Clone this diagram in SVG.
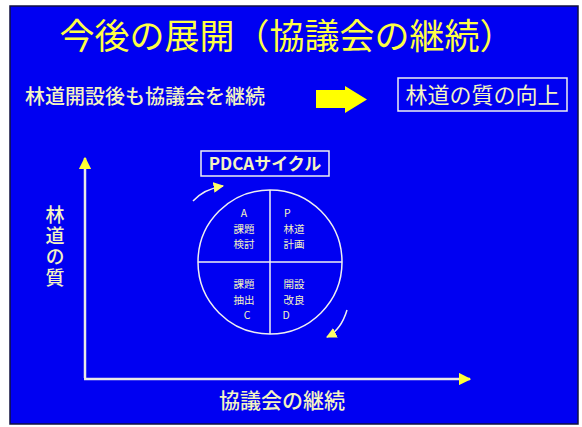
<svg xmlns="http://www.w3.org/2000/svg" width="582" height="427" viewBox="0 0 582 427">
<defs>
<style>
.t{font-family:"Noto Sans CJK JP","Liberation Sans",sans-serif;}
.y{fill:#ffff44;}
.p{fill:#f4f4c0;}
.ax{stroke:#e8e8e8;stroke-width:2.5;fill:none;}
.wl{stroke:#f0f0f0;stroke-width:1.5;fill:none;}
</style>
<marker id="ah" viewBox="0 0 10 10" refX="9" refY="5" markerWidth="5" markerHeight="5" orient="auto" markerUnits="strokeWidth"><path d="M0,0L10,5L0,10z" fill="#ffff33"/></marker>
<marker id="sh" viewBox="0 0 10 10" refX="9" refY="5" markerWidth="7" markerHeight="7" orient="auto" markerUnits="strokeWidth"><path d="M0,0L10,5L0,10z" fill="#ffff66"/></marker>
</defs>
<rect width="582" height="427" fill="#ffffff"/>
<rect x="10" y="6" width="568" height="418" fill="#0000f2" stroke="#101040" stroke-width="1.5"/>
<g id="title"><text class="t y" x="287" y="49" font-size="35" text-anchor="middle">今後の展開（協議会の継続）</text></g>
<g id="subtitle"><text class="t p" x="25" y="104" font-size="20" font-weight="500">林道開設後も協議会を継続</text></g>
<g id="bigarrow"><path d="M316,90H345V86L367,99.5L345,113V108H316Z" fill="#ffff00"/></g>
<g id="result"><rect x="398" y="78" width="169" height="33" fill="none" stroke="#f0f0f0" stroke-width="1.5"/><text class="t p" x="482.5" y="103" font-size="22" text-anchor="middle">林道の質の向上</text></g>
<g id="pdca-label"><rect x="201" y="151" width="128" height="25" fill="none" stroke="#f0f0f0" stroke-width="1.5"/><text class="t p" x="265" y="170" font-size="17" font-weight="bold" text-anchor="middle">PDCAサイクル</text></g>
<g id="cycle">
<circle cx="270" cy="262" r="72" class="wl"/>
<line x1="270" y1="190" x2="270" y2="334" class="wl"/>
<line x1="198" y1="262" x2="342" y2="262" class="wl"/>
<g class="t p" font-size="10.5" text-anchor="middle">
<text x="244" y="217">A</text><text x="244" y="232.5">課題</text><text x="244" y="248">検討</text>
<text x="284" y="217" text-anchor="start">P</text><text x="294" y="232.5">林道</text><text x="294" y="248">計画</text>
<text x="244" y="288">課題</text><text x="244" y="303.5">抽出</text><text x="247" y="319">C</text>
<text x="294" y="288">開設</text><text x="294" y="303.5">改良</text><text x="286" y="319">D</text>
</g>
</g>
<g id="connectors">
<path d="M193,201Q204,189 223,186" class="wl" stroke-width="1" marker-end="url(#sh)"/>
<path d="M347,310Q341,330 327,337" class="wl" stroke-width="1" marker-end="url(#sh)"/>
<path d="M85,378V158" class="ax" marker-end="url(#ah)"/>
<path d="M84,379H470" class="ax" marker-end="url(#ah)"/>
</g>
<g id="yaxis-label"><text class="t p" x="55" y="205" font-size="19" font-weight="500" writing-mode="vertical-rl" letter-spacing="2">林道の質</text></g>
<g id="xaxis-label"><text class="t p" x="282" y="408" font-size="21" font-weight="500" text-anchor="middle">協議会の継続</text></g>
</svg>
